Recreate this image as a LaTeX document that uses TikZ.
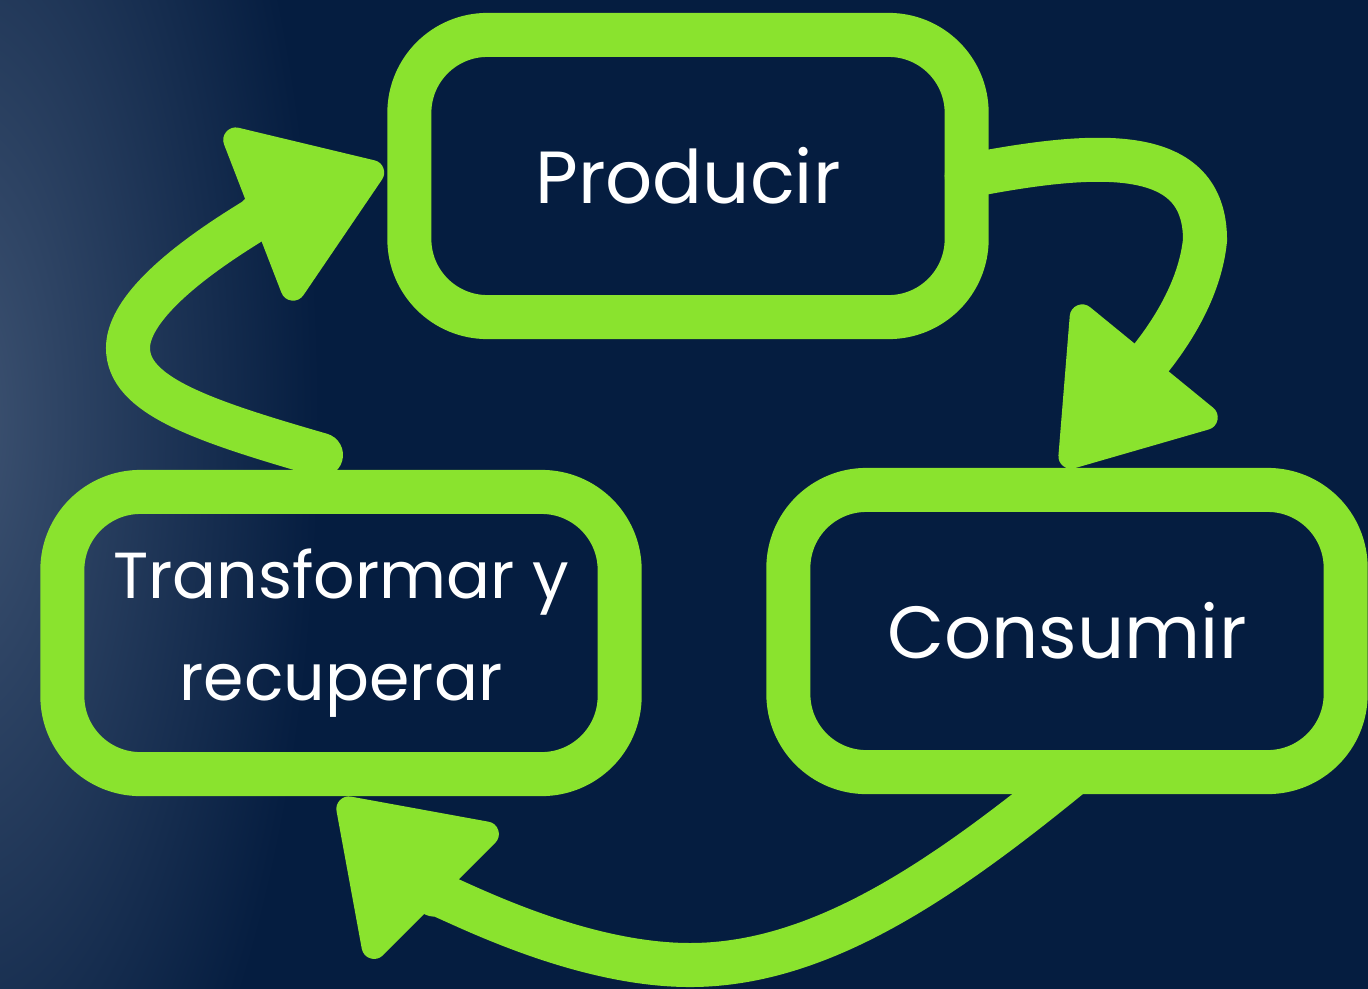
\documentclass[tikz,border=0pt]{standalone}
\usepackage{fontspec}
\setmainfont{Poppins}
\usepackage{tikz}
\usetikzlibrary{arrows.meta,calc}
\definecolor{navy}{HTML}{051D40}
\definecolor{glow}{HTML}{3E5372}
\definecolor{lime}{HTML}{8AE32E}

\begin{document}
\begin{tikzpicture}[x=0.01cm,y=-0.01cm,
		>={Triangle[length=1.5cm,width=2cm,round,line width'=0.25cm]},
		stagebox/.style={draw=lime,line width=0.44cm,rounded corners=0.78cm,
			minimum width=5.57cm,minimum height=2.82cm,inner sep=0pt,outer sep=0pt,
			text=white,align=center},
		loopline/.style={draw=lime,line width=0.44cm,line cap=round,->}]
		\useasboundingbox (0,0) rectangle (1368,988);
		% background with the glow on the left
		\fill[navy] (-10,-10) rectangle (1378,998);
		\begin{scope}
			\clip (-10,-10) rectangle (1378,998);
			\shade[inner color=glow,outer color=navy] (-40,420) ellipse (360 and 920);
		\end{scope}

		\node[stagebox,font=\fontsize{21}{26}\selectfont] (prod) at (688,176) {Producir};
		\node[stagebox,font=\fontsize{18.5}{29}\selectfont] (trans) at (341,633) {Transformar y\\recuperar};
		\node[stagebox,font=\fontsize{21}{26}\selectfont] (cons) at (1067,631) {Consumir};

		\coordinate (loopstart) at ($(trans.north)+(-20,-37)$);

		\draw[loopline] (prod.east) .. controls (1100,150) and (1205,145) .. (1205,240)
			.. controls (1200,290) and (1170,335) .. ($(cons.north)+(-4,-24)$);
		\draw[loopline] ($(cons.south)+(8,0)$) .. controls (943,880) and (820,965) .. (690,965)
			.. controls (560,965) and (420,880) .. ($(trans.south)+(-1,26)$);
		\draw[loopline] (loopstart) .. controls (200,420) and (128,395) .. (128,348)
			.. controls (128,285) and (280,208) .. ($(prod.west)+(-26,-8)$);
	\end{tikzpicture}
\end{document}
